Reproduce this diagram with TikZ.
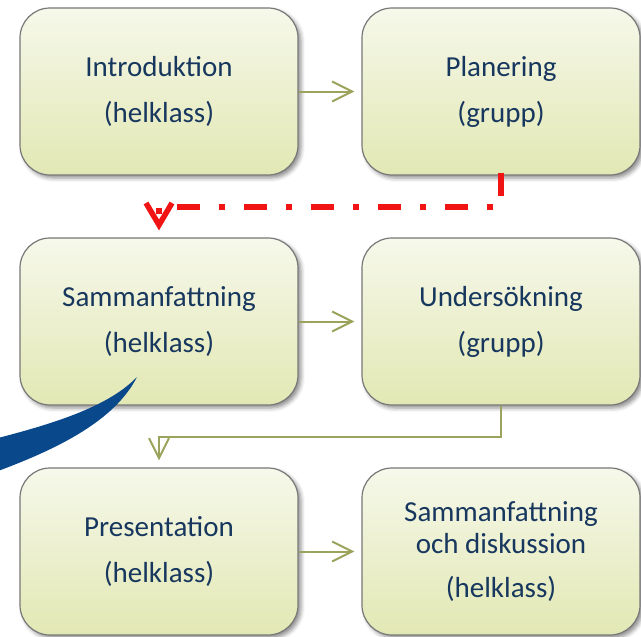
\documentclass[tikz,border=0pt]{standalone}
\usepackage{fontspec}
\setmainfont{Carlito}
\usetikzlibrary{arrows.meta,shadows.blur}

\definecolor{navytext}{RGB}{23,55,94}
\definecolor{boxtop}{RGB}{246,248,234}
\definecolor{boxbottom}{RGB}{226,232,180}
\definecolor{boxedge}{RGB}{120,120,120}
\definecolor{olive}{RGB}{155,163,92}
\definecolor{swoosh}{RGB}{10,72,140}
\definecolor{flowred}{RGB}{240,20,20}

\tikzset{
  stage/.style={
    draw=boxedge, line width=1.2pt, rounded corners=30pt,
    top color=boxtop, bottom color=boxbottom,
    minimum width=278pt, minimum height=167pt,
    inner sep=0pt, align=center, text=navytext,
    font=\fontsize{29}{32}\selectfont,
    blur shadow={shadow xshift=3pt, shadow yshift=-3pt,
                 shadow blur radius=4pt, shadow opacity=45}
  },
  flow/.style={
    draw=olive, line width=2pt,
    -{Straight Barb[length=20pt,width=20pt,line width=2pt]},
    shorten >=7pt
  },
  returnflow/.style={
    draw=flowred, line width=5.5pt,
    dash pattern=on 23pt off 19pt on 6pt off 19pt,
    -{Straight Barb[length=22pt,width=26pt,line width=5.5pt]},
    shorten >=7pt
  }
}

\begin{document}
\begin{tikzpicture}[x=1pt,y=-1pt]
  \useasboundingbox (0,0) rectangle (641,637);
  \begin{scope}
    \clip (0,0) rectangle (641,637);

    % six stages in a 2 x 3 grid
    \node[stage] (intro) at (159,91.5)  {Introduktion\\[14pt](helklass)};
    \node[stage] (plan)  at (501,91.5)  {Planering\\[14pt](grupp)};
    \node[stage] (summ)  at (159,321.5) {Sammanfattning\\[14pt](helklass)};
    \node[stage] (study) at (501,321.5) {Undersökning\\[14pt](grupp)};
    \node[stage] (pres)  at (159,551.5) {Presentation\\[14pt](helklass)};
    \node[stage] (disc)  at (501,551.5) {Sammanfattning\\och diskussion\\[12pt](helklass)};

    % horizontal steps
    \draw[flow] (intro.east) -- (plan.west);
    \draw[flow] (summ.east)  -- (study.west);
    \draw[flow] (pres.east)  -- (disc.west);

    % from the investigation down to the presentation
    \coordinate (turn) at (159,437);
    \draw[flow, rounded corners=0pt] (study.south) |- (turn) -- (pres.north);

    % red return from planning to the summary
    \coordinate (redturn) at (159,207);
    \draw[returnflow] ([yshift=3pt]plan.south) |- (redturn) -- (summ.north);

    % blue swoosh over the summary box
    \fill[swoosh] (137,377) .. controls (115,420) and (60,448) .. (-2,471)
                  -- (-2,438) .. controls (60,422) and (110,405) .. cycle;
  \end{scope}
\end{tikzpicture}
\end{document}
